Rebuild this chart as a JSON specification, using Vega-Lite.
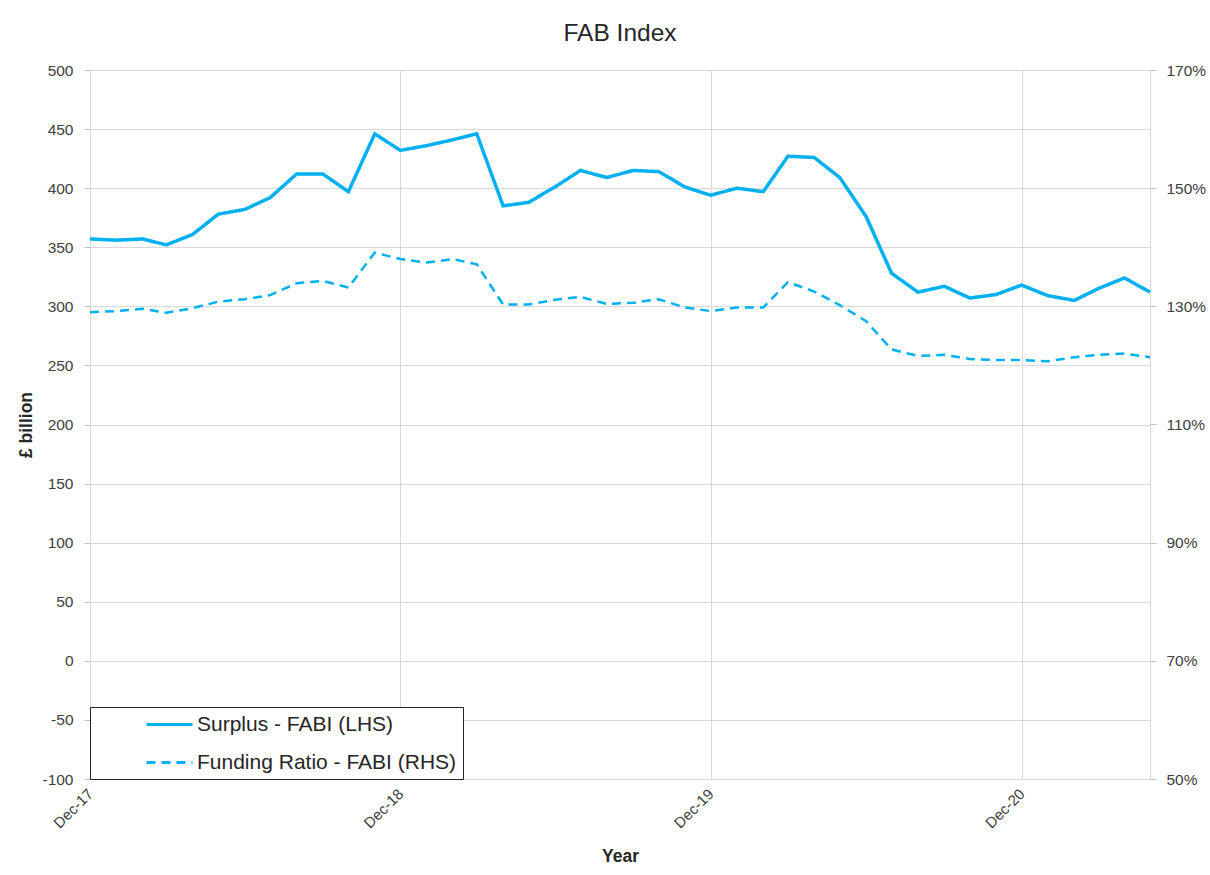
{
  "$schema": "https://vega.github.io/schema/vega-lite/v6.json",
  "width": 1060,
  "height": 709,
  "autosize": "none",
  "padding": {"left": 90, "top": 70, "right": 60, "bottom": 96},
  "background": "white",
  "config": {
    "font": "Liberation Sans",
    "view": {"stroke": "#d9d9d9", "strokeWidth": 1},
    "axis": {"labelFont": "Liberation Sans", "titleFont": "Liberation Sans", "labelColor": "#404040", "titleColor": "#262626", "gridColor": "#d9d9d9", "domain": false, "ticks": false, "tickColor": "#bfbfbf"}
  },
  "title": {"text": "FAB Index", "fontSize": 24.5, "fontWeight": "normal", "color": "#262626", "font": "Liberation Sans", "offset": 17, "anchor": "middle"},
  "data": {"values": [
    {"date": "2017-12-01", "S": 357, "F": 1.290},
    {"date": "2018-01-01", "S": 356, "F": 1.292},
    {"date": "2018-02-01", "S": 357, "F": 1.296},
    {"date": "2018-03-01", "S": 352, "F": 1.289},
    {"date": "2018-04-01", "S": 361, "F": 1.297},
    {"date": "2018-05-01", "S": 378, "F": 1.308},
    {"date": "2018-06-01", "S": 382, "F": 1.312},
    {"date": "2018-07-01", "S": 392, "F": 1.319},
    {"date": "2018-08-01", "S": 412, "F": 1.339},
    {"date": "2018-09-01", "S": 412, "F": 1.343},
    {"date": "2018-10-01", "S": 397, "F": 1.332},
    {"date": "2018-11-01", "S": 446, "F": 1.391},
    {"date": "2018-12-01", "S": 432, "F": 1.380},
    {"date": "2019-01-01", "S": 436, "F": 1.374},
    {"date": "2019-02-01", "S": 441, "F": 1.380},
    {"date": "2019-03-01", "S": 446, "F": 1.371},
    {"date": "2019-04-01", "S": 385, "F": 1.303},
    {"date": "2019-05-01", "S": 388, "F": 1.303},
    {"date": "2019-06-01", "S": 401, "F": 1.311},
    {"date": "2019-07-01", "S": 415, "F": 1.316},
    {"date": "2019-08-01", "S": 409, "F": 1.304},
    {"date": "2019-09-01", "S": 415, "F": 1.306},
    {"date": "2019-10-01", "S": 414, "F": 1.312},
    {"date": "2019-11-01", "S": 401, "F": 1.298},
    {"date": "2019-12-01", "S": 394, "F": 1.292},
    {"date": "2020-01-01", "S": 400, "F": 1.298},
    {"date": "2020-02-01", "S": 397, "F": 1.298},
    {"date": "2020-03-01", "S": 427, "F": 1.341},
    {"date": "2020-04-01", "S": 426, "F": 1.325},
    {"date": "2020-05-01", "S": 409, "F": 1.302},
    {"date": "2020-06-01", "S": 376, "F": 1.275},
    {"date": "2020-07-01", "S": 328, "F": 1.227},
    {"date": "2020-08-01", "S": 312, "F": 1.216},
    {"date": "2020-09-01", "S": 317, "F": 1.218},
    {"date": "2020-10-01", "S": 307, "F": 1.211},
    {"date": "2020-11-01", "S": 310, "F": 1.209},
    {"date": "2020-12-01", "S": 318, "F": 1.209},
    {"date": "2021-01-01", "S": 309, "F": 1.207},
    {"date": "2021-02-01", "S": 305, "F": 1.214},
    {"date": "2021-03-01", "S": 315, "F": 1.218},
    {"date": "2021-04-01", "S": 324, "F": 1.220},
    {"date": "2021-05-01", "S": 312, "F": 1.214}
  ]},
  "encoding": {
    "x": {
      "field": "date", "type": "temporal",
      "scale": {"type": "utc", "domain": [{"year": 2017, "month": 12, "date": 1, "utc": true}, {"year": 2021, "month": 5, "date": 1, "utc": true}]},
      "axis": {
        "title": "Year", "titleFontSize": 17.5, "titleFontWeight": "bold", "titlePadding": 17,
        "labelExpr": "utcFormat(datum.value, '%b-%y')",
        "values": [{"year": 2017, "month": 12, "date": 1, "utc": true}, {"year": 2018, "month": 12, "date": 1, "utc": true}, {"year": 2019, "month": 12, "date": 1, "utc": true}, {"year": 2020, "month": 12, "date": 1, "utc": true}],
        "labelAngle": -45, "labelAlign": "right", "labelBaseline": "middle", "labelFontSize": 15, "labelPadding": 12, "grid": true
      }
    }
  },
  "layer": [
    {
      "mark": {"type": "line", "color": "#00B0F0", "strokeWidth": 3.5},
      "encoding": {
        "y": {
          "field": "S", "type": "quantitative",
          "scale": {"domain": [-100, 500], "nice": false, "zero": false},
          "axis": {"title": "£ billion", "titleFontSize": 17.5, "titleFontWeight": "bold", "titlePadding": 6, "values": [-100, -50, 0, 50, 100, 150, 200, 250, 300, 350, 400, 450, 500], "labelExpr": "replace(datum.label, '−', '-')", "labelFontSize": 15.5, "labelPadding": 11, "ticks": true, "tickSize": 6, "grid": true}
        },
        "strokeDash": {
          "datum": "Surplus - FABI (LHS)", "type": "nominal",
          "scale": {"domain": ["Surplus - FABI (LHS)", "Funding Ratio - FABI (RHS)"], "range": [[1, 0], [9, 6]]},
          "legend": {
            "title": null, "orient": "none", "legendX": 0, "legendY": 637,
            "strokeColor": "#262626", "fillColor": "white", "padding": 6,
            "symbolType": "M-2.3,0H2.3", "symbolSize": 400, "symbolStrokeColor": "#00B0F0", "symbolStrokeWidth": 3, "symbolFillColor": "transparent",
            "symbolOffset": 62, "labelFontSize": 21, "labelColor": "#262626", "labelFont": "Liberation Sans", "labelOffset": 16, "labelLimit": 500, "rowPadding": 16
          }
        }
      }
    },
    {
      "mark": {"type": "line", "color": "#00B0F0", "strokeWidth": 2.5},
      "encoding": {
        "y": {
          "field": "F", "type": "quantitative",
          "scale": {"domain": [0.5, 1.7], "nice": false, "zero": false},
          "axis": {"orient": "right", "title": null, "format": ".0%", "values": [0.5, 0.7, 0.9, 1.1, 1.3, 1.5, 1.7], "labelFontSize": 15.5, "labelPadding": 10, "ticks": true, "tickSize": 6, "grid": false}
        },
        "strokeDash": {"datum": "Funding Ratio - FABI (RHS)", "type": "nominal"}
      }
    }
  ],
  "resolve": {"scale": {"y": "independent"}}
}
